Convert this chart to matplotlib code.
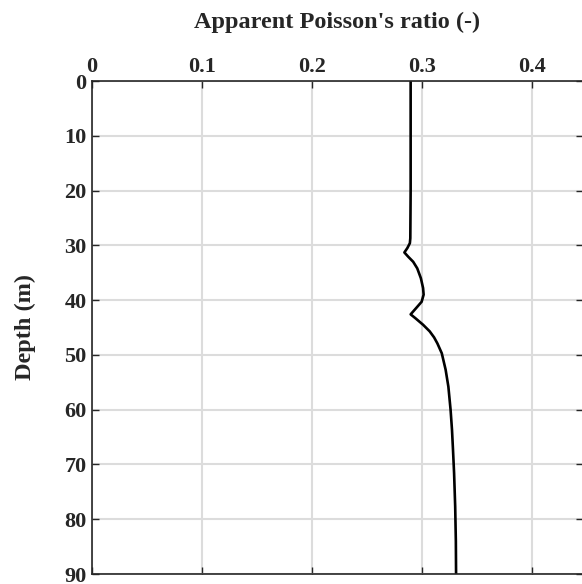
import numpy as np
import matplotlib.pyplot as plt

# depth profile of apparent Poisson's ratio
depth = [0, 10, 20, 28.7, 29.6, 30.5, 31.3, 32.1, 33.0, 34.2, 36.0, 37.8, 39.0,
         40.3, 41.5, 42.6, 43.3, 44.5, 45.7, 46.8, 47.9, 49.7, 52.7, 55.8, 60.0,
         63.7, 67.3, 71.6, 77.7, 84, 90]
poisson = [0.2897, 0.2897, 0.2897, 0.2894, 0.289, 0.2867, 0.284, 0.2876, 0.292,
           0.2957, 0.299, 0.301, 0.3015, 0.2997, 0.2945, 0.2897, 0.294, 0.301,
           0.307, 0.311, 0.314, 0.318, 0.3215, 0.324, 0.326, 0.3273, 0.3282,
           0.3292, 0.3302, 0.3308, 0.331]

xticks = [0, 0.1, 0.2, 0.3, 0.4]
xtick_labels = ['0', '0.1', '0.2', '0.3', '0.4']
yticks = [0, 10, 20, 30, 40, 50, 60, 70, 80, 90]

plt.rcParams['font.family'] = ['Liberation Serif', 'DejaVu Serif']
plt.rcParams['font.weight'] = 'bold'

fig = plt.figure(figsize=(5.82, 5.84), dpi=100)
ax = fig.add_axes([92/582, 10/584, 491/582, 493/584])

ax.plot(poisson, depth, color='black', lw=1.9, solid_capstyle='butt')

ax.set_xlim(0, 0.4464)
ax.set_ylim(90, 0)
ax.set_xticks(xticks)
ax.set_xticklabels(xtick_labels)
ax.set_yticks(yticks)
ax.xaxis.tick_top()
ax.xaxis.set_label_position('top')
ax.tick_params(axis='both', which='both', direction='in', length=5, width=1,
               top=True, bottom=True, left=True, right=True,
               labelsize=16, colors='#262626', labelcolor='#262626')
ax.tick_params(axis='x', pad=3)
ax.tick_params(axis='y', pad=4)
ax.grid(True, color='#dcdcdc', lw=1.5)
ax.set_axisbelow(True)
for s in ax.spines.values():
    s.set_color('#262626')
    s.set_linewidth(1.2)

ax.set_xlabel("Apparent Poisson's ratio (-)", fontsize=17.5, fontweight='bold',
              labelpad=21, color='#262626')
ax.set_ylabel('Depth (m)', fontsize=17.5, fontweight='bold', labelpad=20,
              color='#262626')

fig.savefig('out.png', dpi=100)
